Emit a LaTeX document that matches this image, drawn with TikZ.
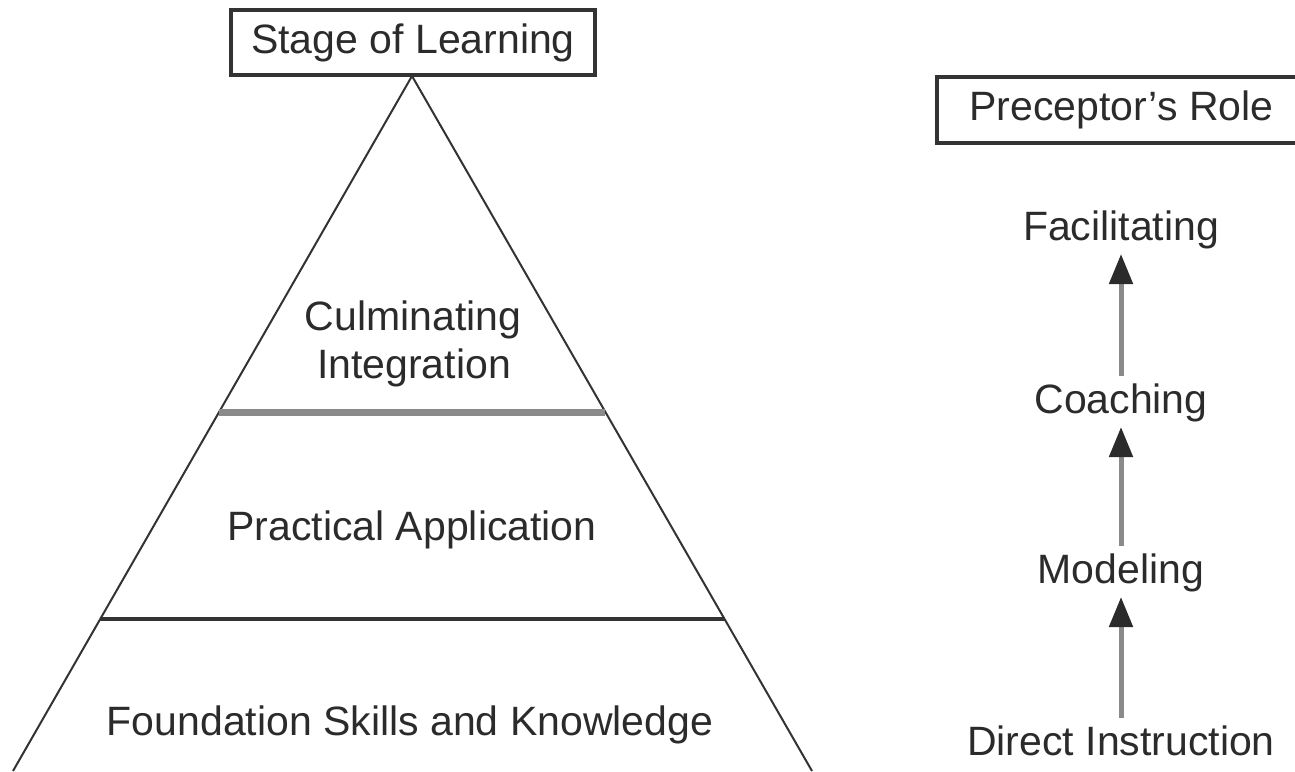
\documentclass[tikz,border=0pt]{standalone}
\usepackage{fontspec}
\setmainfont{Liberation Sans}
\usetikzlibrary{arrows.meta,calc}

\definecolor{ink}{HTML}{2B2B2B}
\definecolor{edge}{HTML}{333333}
\definecolor{midgray}{HTML}{8A8A8A}

\begin{document}
\begin{tikzpicture}[
    x=0.5pt, y=-0.5pt,
    lbl/.style={inner sep=0pt, text=ink, anchor=base,
                font=\fontsize{20.5}{24}\selectfont,
                text height=15pt, text depth=4.3pt},
    titlebox/.style={draw=edge, line width=1.6pt, inner sep=0pt, text=ink,
                font=\fontsize{20.5}{24}\selectfont,
                text height=15pt, text depth=4.3pt},
    side/.style={draw=edge, line width=1pt},
    band/.style={draw=midgray, line width=3.5pt},
    rule/.style={draw=edge, line width=2pt},
    rise/.style={draw=midgray, line width=2.5pt,
                -{Triangle[length=15pt, width=11.5pt, color=ink, fill=ink]},
                shorten <=3.5pt, shorten >=2.5pt},
  ]
  \useasboundingbox (0,0) rectangle (1295,771);

  % --- left: stages of learning as a pyramid ---
  \node[titlebox, minimum width=182pt, minimum height=32.5pt] (stage) at (413,42.5) {Stage of Learning};

  \coordinate (apex) at (412,76);
  \coordinate (bl) at (13,771);
  \coordinate (br) at (812,771);
  \draw[side] (bl) -- (apex) -- (br);

  % level dividers
  \coordinate (d1l) at ($(apex)!0.4835!(bl)$);
  \coordinate (d1r) at ($(apex)!0.4835!(br)$);
  \coordinate (d2l) at ($(apex)!0.7813!(bl)$);
  \coordinate (d2r) at ($(apex)!0.7813!(br)$);
  \draw[band] (d1l) -- (d1r);
  \draw[rule] (d2l) -- (d2r);

  \node[lbl] (cul)   at (413,330) {Culminating};
  \node[lbl] (integ) at (414,378) {Integration};
  \node[lbl] (prac)  at (412,540) {Practical Application};
  \node[lbl] (found) at (410,735) {Foundation Skills and Knowledge};

  % --- right: preceptor's role ---
  \node[titlebox, minimum width=184.5pt, minimum height=33pt] (role) at (1121.5,110) {Preceptor's Role};

  \node[lbl] (fac) at (1121,240) {Facilitating};
  \node[lbl] (coa) at (1121,413) {Coaching};
  \node[lbl] (mod) at (1121,583) {Modeling};
  \node[lbl] (dir) at (1121,755) {Direct Instruction};

  \draw[rise] (dir.north) -- (mod.south);
  \draw[rise] (mod.north) -- (coa.south);
  \draw[rise] (coa.north) -- (fac.south);
\end{tikzpicture}
\end{document}
